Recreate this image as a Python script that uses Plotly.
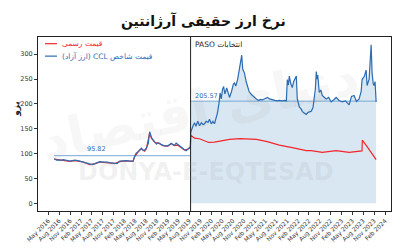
import plotly.graph_objects as go

# ---------------- data ----------------
ccl_dates = [
    "2016-06-20","2016-07-10","2016-07-24","2016-08-15","2016-09-04","2016-09-25","2016-10-15","2016-10-30",
    "2016-11-20","2016-12-11","2017-01-05","2017-01-22","2017-02-15","2017-03-19","2017-04-16","2017-05-05",
    "2017-05-28","2017-06-20","2017-07-09","2017-07-30","2017-08-19","2017-09-10","2017-09-30","2017-10-20",
    "2017-11-11","2017-12-01","2017-12-23","2018-01-15","2018-02-17","2018-03-15","2018-04-14","2018-04-28",
    "2018-05-10","2018-05-26","2018-06-10","2018-06-23","2018-07-08","2018-07-21","2018-08-04","2018-08-20",
    "2018-09-01","2018-09-08","2018-09-15","2018-09-28","2018-10-13","2018-10-28","2018-11-10","2018-11-24",
    "2018-12-08","2018-12-21","2019-01-10","2019-02-01","2019-02-15","2019-03-02","2019-03-15","2019-03-29",
    "2019-04-12","2019-04-26","2019-05-10","2019-05-25","2019-06-10","2019-06-21","2019-07-05","2019-07-19",
    "2019-08-09",
    "2019-08-12","2019-08-20","2019-09-01","2019-09-13","2019-09-25","2019-10-10","2019-10-25","2019-11-10",
    "2019-11-25","2019-12-06","2019-12-20","2020-01-05","2020-01-17","2020-02-01","2020-02-15","2020-02-28",
    "2020-03-10","2020-03-24","2020-04-05","2020-04-15","2020-04-25","2020-05-05","2020-05-15","2020-05-25",
    "2020-06-10","2020-06-25","2020-07-03","2020-07-20","2020-08-05","2020-08-14","2020-08-25","2020-09-10",
    "2020-09-25","2020-10-05","2020-10-14","2020-10-22","2020-11-06","2020-11-20","2020-12-01","2020-12-15",
    "2021-01-03","2021-01-20","2021-02-14","2021-03-05","2021-03-20","2021-04-05","2021-04-25","2021-05-17",
    "2021-06-05","2021-06-28","2021-07-20","2021-08-10","2021-08-26","2021-09-20","2021-10-10","2021-10-24",
    "2021-11-01","2021-11-10","2021-11-18","2021-12-01","2021-12-13","2021-12-25","2022-01-16","2022-01-24",
    "2022-02-10","2022-02-25","2022-03-07","2022-03-20","2022-04-09","2022-04-25","2022-05-21","2022-06-05",
    "2022-06-16","2022-06-25","2022-07-03","2022-07-08","2022-07-15","2022-07-28","2022-08-10","2022-08-22",
    "2022-09-10","2022-09-24","2022-10-15","2022-11-05","2022-11-25","2022-12-17","2023-01-10","2023-02-05",
    "2023-03-05","2023-04-05","2023-04-25","2023-05-17","2023-06-05","2023-06-28","2023-07-15","2023-07-23",
    "2023-08-10","2023-08-26","2023-09-03","2023-09-20","2023-10-07","2023-10-15","2023-10-25","2023-11-01",
    "2023-11-09","2023-11-18",
]
ccl_values = [
    89.7, 87, 87.5, 86.5, 88, 86.5, 86, 85,
    86, 87, 86, 85, 84, 82, 79, 78,
    80, 82, 84, 83, 83.5, 83, 82, 81,
    81, 80, 85, 85.5, 86, 85, 85, 95,
    101, 104, 108, 111, 106, 107, 111, 120,
    144, 138, 133, 128, 124, 119, 122, 121,
    118, 117, 115, 116, 119, 121, 118, 117,
    121, 118, 115, 112, 110, 108, 106, 110,
    114,
    143, 150, 156, 162, 155, 165, 156, 162,
    158, 160, 165, 163, 169, 160, 165, 160,
    170, 182, 200, 222, 210, 229, 235, 220,
    232, 218, 213, 225, 240, 242, 236, 250,
    268, 280, 298, 270, 262, 245, 237, 225,
    219, 215, 210, 207, 209, 208, 211, 213,
    210, 208, 207, 206, 207, 206, 207, 206,
    249, 238, 256, 240, 233, 245, 256, 210,
    194, 190, 185, 182, 179, 183, 185, 192,
    209, 230, 265, 250, 258, 223, 228, 217,
    213, 210, 213, 204, 208, 213, 207, 204,
    206, 198, 215, 217, 205, 210, 225, 249,
    255, 268, 237, 250, 319, 262, 240, 237,
    245, 204,
]

official_dates = [
    "2016-06-20","2016-09-04","2016-10-30","2016-12-11","2017-02-15","2017-04-16","2017-05-28","2017-07-09",
    "2017-09-30","2017-11-11","2017-12-23","2018-02-17","2018-04-14","2018-04-28","2018-05-26","2018-06-23",
    "2018-07-21","2018-08-04","2018-09-01","2018-09-15","2018-10-13","2018-11-24","2018-12-21","2019-02-01",
    "2019-03-02","2019-03-29","2019-04-26","2019-05-25","2019-06-21","2019-07-19","2019-08-09",
    "2019-08-12","2019-08-25","2019-09-13","2019-10-25","2019-12-06","2020-01-10","2020-02-28","2020-05-01",
    "2020-07-03","2020-10-01","2020-12-01","2021-02-14","2021-05-17","2021-08-26","2021-12-13","2022-04-09",
    "2022-05-21","2022-08-22","2022-12-17","2023-04-05","2023-07-22","2023-07-25","2023-09-03","2023-11-18",
]
official_values = [
    89, 87, 84.5, 86, 83.5, 78, 79.5, 83.5,
    81.5, 80, 84, 85.5, 84.5, 94, 103, 110,
    105, 110, 142, 131, 123, 120, 116, 115,
    120, 116, 117, 111, 107, 109, 112,
    137, 134, 131, 130, 126, 122.5, 123, 126,
    128.8, 130, 129.5, 128.8, 124, 117, 112, 106,
    106, 102.6, 106, 102.6, 105.6, 127, 114, 88,
]

paso_date = "2019-08-11"
mean_labels = ["95.82", "205.57"]
mean_pre = 95.82
mean_post = 205.57

title_text = "نرخ ارز حقیقی آرژانتین"
name_official = "قیمت رسمی"
name_ccl = "قیمت شاخص CCL (ارز آزاد)"
paso_label = "انتخابات PASO"
y_label = "پزو"
y_ticks = [0, 50, 100, 150, 200, 250, 300]

# ---------------- helpers ----------------
BLUE = "#2b6cb3"
RED = "#f2262b"
FILL = "#d9e7f2"
MEANC = "#78a9d6"
RTL = lambda s: "\u202b" + s + "\u202c"

# plot area in pixels: left 38, right 392, top 37, bottom 219
PL, PR, PT, PB = 38, 392, 37, 219
px = lambda x: (x - PL) / (PR - PL)
py = lambda y: (PB - y) / (PB - PT)

post_idx = [i for i, d in enumerate(ccl_dates) if d >= paso_date]
post_dates = [paso_date] + [ccl_dates[i] for i in post_idx]
post_fill = [max(ccl_values[post_idx[0]], mean_post)] + [max(ccl_values[i], mean_post) for i in post_idx]

fig = go.Figure()

fig.add_trace(go.Scatter(x=post_dates, y=post_fill, mode="lines", line=dict(width=0),
                         fill="tozeroy", fillcolor=FILL, showlegend=False, hoverinfo="skip"))
fig.add_trace(go.Scatter(x=[ccl_dates[0], paso_date], y=[mean_pre, mean_pre], mode="lines",
                         line=dict(color=MEANC, width=1), showlegend=False))
fig.add_trace(go.Scatter(x=[paso_date, ccl_dates[-1]], y=[mean_post, mean_post], mode="lines",
                         line=dict(color=MEANC, width=1), showlegend=False))
fig.add_trace(go.Scatter(x=official_dates, y=official_values, mode="lines",
                         line=dict(color=RED, width=1.2), name=name_official, showlegend=False))
fig.add_trace(go.Scatter(x=ccl_dates, y=ccl_values, mode="lines",
                         line=dict(color=BLUE, width=1.2), name=name_ccl, showlegend=False))

# PASO vertical line
fig.add_shape(type="line", x0=paso_date, x1=paso_date, y0=0, y1=1, xref="x", yref="paper",
              line=dict(color="#222", width=1))

# legend (manual, to keep short swatches like the reference)
for yy, col, nm in [(44, RED, name_official), (57, BLUE, name_ccl)]:
    fig.add_shape(type="line", xref="paper", yref="paper", x0=px(45), x1=px(57), y0=py(yy), y1=py(yy),
                  line=dict(color=col, width=1.2))
    fig.add_annotation(text=RTL(nm), xref="paper", yref="paper", x=px(60), y=py(yy), xanchor="left",
                       yanchor="middle", showarrow=False,
                       font=dict(size=7.5, color=col, family="DejaVu Sans"))

# watermark
fig.add_annotation(text="DONYA-E-EQTESAD", x=px(206), y=py(178), xref="paper", yref="paper",
                   xanchor="center", yanchor="middle",
                   showarrow=False, font=dict(size=24, color="rgba(150,150,150,0.13)",
                   family="DejaVu Sans", weight="bold"))
fig.add_annotation(text="دنیای اقتصاد", x=px(200), y=py(112), xref="paper", yref="paper", textangle=-12,
                   xanchor="center", yanchor="middle",
                   showarrow=False, font=dict(size=52, color="rgba(120,120,120,0.06)",
                   family="DejaVu Sans", weight="bold"))

# labels
fig.add_annotation(text=mean_labels[0], x="2017-06-10", y=mean_pre, yshift=7, showarrow=False,
                   font=dict(size=6.5, color=BLUE, family="DejaVu Sans"))
fig.add_annotation(text=mean_labels[1], x=paso_date, y=mean_post, xanchor="left", yanchor="bottom",
                   xshift=2, yshift=-1, showarrow=False,
                   font=dict(size=6.5, color=BLUE, family="DejaVu Sans"))
fig.add_annotation(text=RTL(paso_label), x=paso_date, y=py(45), yref="paper", xanchor="left",
                   yanchor="middle", xshift=2, showarrow=False,
                   font=dict(size=7.5, color="#222", family="DejaVu Sans"))
fig.add_annotation(text=y_label, x=px(17), y=py(112), xref="paper", yref="paper", showarrow=False,
                   xanchor="center", yanchor="middle", textangle=-90,
                   font=dict(size=9, color="#222", family="DejaVu Sans", weight="bold"))
fig.add_annotation(text=f"<b>{title_text}</b>", x=px(204), y=py(20), xref="paper", yref="paper",
                   xanchor="center", yanchor="middle",
                   showarrow=False, font=dict(size=14, color="#111", family="DejaVu Sans"))

fig.update_layout(
    width=400, height=252,
    margin=dict(l=PL, r=400 - PR, t=PT, b=252 - PB),
    plot_bgcolor="white", paper_bgcolor="white",
    font=dict(family="DejaVu Sans", size=6.5, color="#333"),
    showlegend=False,
    xaxis=dict(type="date", range=["2016-02-05", "2024-03-22"], tick0="2016-05-01", dtick="M3",
               tickformat="%b %Y", tickangle=-45, ticks="outside", ticklen=3, tickcolor="#333",
               showline=True, linecolor="#222", linewidth=1, mirror=True, showgrid=False,
               zeroline=False, tickfont=dict(size=6, color="#333")),
    yaxis=dict(range=[-15.4, 334.6], tickvals=y_ticks, ticks="outside", ticklen=3, tickcolor="#333",
               showline=True, linecolor="#222", linewidth=1, mirror=True, showgrid=False,
               zeroline=False, tickfont=dict(size=6.5, color="#333")),
)

fig.write_html("out.html")
